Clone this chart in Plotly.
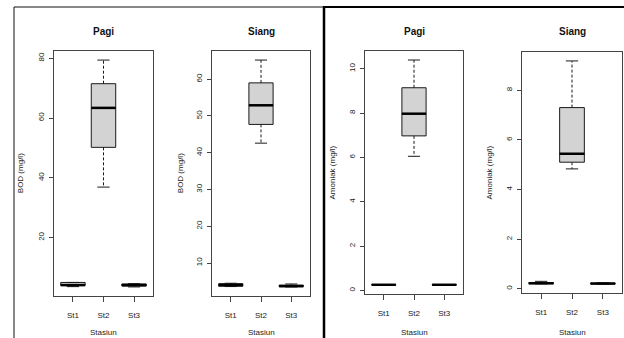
import plotly.graph_objects as go

W, H = 624, 338

stations = ["St1", "St2", "St3"]

# BOD - Pagi (five-number summaries per station)
bod_pagi_min = [3.6, 36.9, 3.5]
bod_pagi_q1 = [4.0, 50.2, 3.8]
bod_pagi_med = [4.1, 63.4, 4.1]
bod_pagi_q3 = [5.0, 71.5, 4.5]
bod_pagi_max = [5.0, 79.4, 4.6]

# BOD - Siang
bod_siang_min = [3.6, 42.6, 3.5]
bod_siang_q1 = [3.7, 47.7, 3.6]
bod_siang_med = [4.0, 52.9, 3.7]
bod_siang_q3 = [4.4, 59.0, 4.0]
bod_siang_max = [4.5, 65.2, 4.3]

# Amoniak - Pagi
amo_pagi_min = [0.25, 6.05, 0.25]
amo_pagi_q1 = [0.25, 6.97, 0.25]
amo_pagi_med = [0.26, 7.97, 0.26]
amo_pagi_q3 = [0.27, 9.14, 0.27]
amo_pagi_max = [0.27, 10.39, 0.27]

# Amoniak - Siang
amo_siang_min = [0.20, 4.83, 0.19]
amo_siang_q1 = [0.21, 5.10, 0.20]
amo_siang_med = [0.22, 5.44, 0.21]
amo_siang_q3 = [0.25, 7.30, 0.23]
amo_siang_max = [0.30, 9.18, 0.24]

titles = ["Pagi", "Siang", "Pagi", "Siang"]
ylabels = ["BOD (mg/l)", "BOD (mg/l)", "Amoniak (mg/l)", "Amoniak (mg/l)"]
ydticks = [20, 10, 2, 2]
xlabel = "Stasiun"

panels = [
    (bod_pagi_min, bod_pagi_q1, bod_pagi_med, bod_pagi_q3, bod_pagi_max),
    (bod_siang_min, bod_siang_q1, bod_siang_med, bod_siang_q3, bod_siang_max),
    (amo_pagi_min, amo_pagi_q1, amo_pagi_med, amo_pagi_q3, amo_pagi_max),
    (amo_siang_min, amo_siang_q1, amo_siang_med, amo_siang_q3, amo_siang_max),
]

# plot areas in pixels: left, right, top, bottom
boxes_px = [
    (54, 153, 51, 296),
    (212, 310, 51, 296),
    (365, 463, 51, 294),
    (522, 622, 52, 293),
]

def px(x):
    return x / W

def py(y):
    return 1 - y / H

FONT = "Liberation Sans, Arial, sans-serif"
BOXW = 0.8
CAPW = 0.4

fig = go.Figure()
layout = dict(
    width=W, height=H, margin=dict(l=0, r=0, t=0, b=0),
    paper_bgcolor="white", plot_bgcolor="white", showlegend=False,
    font=dict(family=FONT, size=8, color="#222"),
)
annotations = []

for i, (mn, q1, md, q3, mx) in enumerate(panels):
    n = i + 1
    xa = "x" if n == 1 else f"x{n}"
    ya = "y" if n == 1 else f"y{n}"
    for j in range(len(stations)):
        p = j + 1
        fig.add_trace(go.Box(
            x=[p], q1=[q1[j]], median=[md[j]], q3=[q3[j]],
            lowerfence=[q1[j]], upperfence=[q3[j]],
            width=BOXW, fillcolor="#D3D3D3",
            line=dict(color="#1a1a1a", width=1), whiskerwidth=0,
            xaxis=xa, yaxis=ya, hoverinfo="skip",
        ))
        # dashed whiskers
        fig.add_trace(go.Scatter(
            x=[p, p, None, p, p], y=[q3[j], mx[j], None, q1[j], mn[j]],
            mode="lines", line=dict(color="#1a1a1a", width=1, dash="3px,2px"),
            xaxis=xa, yaxis=ya, hoverinfo="skip",
        ))
        # caps
        fig.add_trace(go.Scatter(
            x=[p - CAPW / 2, p + CAPW / 2, None, p - CAPW / 2, p + CAPW / 2],
            y=[mx[j], mx[j], None, mn[j], mn[j]],
            mode="lines", line=dict(color="#1a1a1a", width=1),
            xaxis=xa, yaxis=ya, hoverinfo="skip",
        ))
        # thick median
        fig.add_trace(go.Scatter(
            x=[p - BOXW / 2, p + BOXW / 2], y=[md[j], md[j]],
            mode="lines", line=dict(color="#000", width=2.5),
            xaxis=xa, yaxis=ya, hoverinfo="skip",
        ))
    lo = min(mn)
    hi = max(mx)
    ext = (hi - lo) * 0.04
    l, r, t, b = boxes_px[i]
    n_st = len(stations)
    xext = n_st * 0.04
    layout["xaxis" if n == 1 else f"xaxis{n}"] = dict(
        domain=[px(l), px(r)], anchor=ya,
        range=[0.5 - xext, n_st + 0.5 + xext],
        tickvals=list(range(1, n_st + 1)), ticktext=stations,
        ticks="outside", ticklen=5, tickcolor="#444",
        showline=True, mirror=True, linecolor="#444", linewidth=1,
        showgrid=False, zeroline=False, ticklabelstandoff=6,
        tickfont=dict(size=8, color="#222"),
    )
    layout["yaxis" if n == 1 else f"yaxis{n}"] = dict(
        domain=[py(b), py(t)], anchor=xa,
        range=[lo - ext, hi + ext], dtick=ydticks[i], tick0=0,
        ticks="outside", ticklen=4, tickcolor="#444", tickangle=-90,
        showline=True, mirror=True, linecolor="#444", linewidth=1,
        showgrid=False, zeroline=False, ticklabelstandoff=2,
        tickfont=dict(size=8, color="#222"),
    )
    cx = (l + r) / 2
    annotations.append(dict(
        text=f"<b>{titles[i]}</b>", x=px(cx), y=py(31.5), xref="paper", yref="paper",
        showarrow=False, font=dict(size=10, color="#111"), xanchor="center", yanchor="middle",
    ))
    annotations.append(dict(
        text=xlabel, x=px(cx), y=py(332), xref="paper", yref="paper",
        showarrow=False, font=dict(size=8, color="#222"), xanchor="center", yanchor="middle",
    ))
    ylab_x = [20.7, 180.7, 332, 489][i]
    annotations.append(dict(
        text=ylabels[i], x=px(ylab_x), y=py((t + b) / 2), xref="paper", yref="paper",
        showarrow=False, textangle=-90, font=dict(size=8, color="#222"),
        xanchor="center", yanchor="middle",
    ))

layout["annotations"] = annotations
layout["shapes"] = [
    dict(type="line", xref="paper", yref="paper", x0=px(14), x1=px(14), y0=0, y1=py(7),
         line=dict(color="#111", width=1)),
    dict(type="line", xref="paper", yref="paper", x0=px(14), x1=px(323), y0=py(7), y1=py(7),
         line=dict(color="#111", width=1)),
    dict(type="line", xref="paper", yref="paper", x0=px(324), x1=px(324), y0=0, y1=py(6.5),
         line=dict(color="#000", width=2.5)),
    dict(type="line", xref="paper", yref="paper", x0=px(323), x1=1, y0=py(7), y1=py(7),
         line=dict(color="#000", width=2)),
]
fig.update_layout(**layout)
fig.write_html(
    "out.html",
    config={"displayModeBar": False, "staticPlot": True},
    post_script="document.body.style.margin='0';document.body.style.overflow='hidden';",
)
